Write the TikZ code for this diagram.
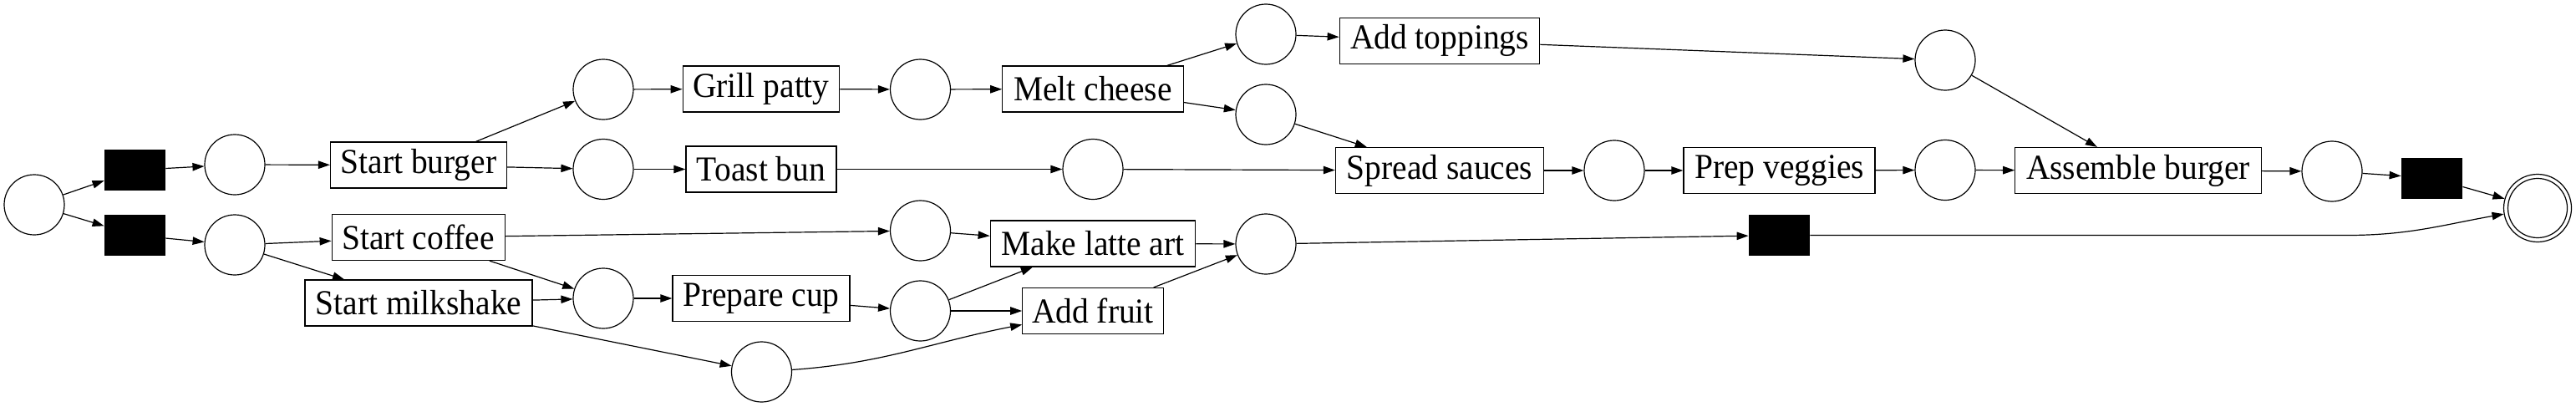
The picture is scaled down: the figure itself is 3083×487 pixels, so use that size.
\documentclass[tikz,border=0pt]{standalone}
\usepackage{fontspec}
\setmainfont{Liberation Serif}[FakeStretch=0.94]
\usetikzlibrary{arrows.meta}
\begin{document}
\begin{tikzpicture}[x=0.5pt,y=0.5pt,
  place/.style={draw, circle, minimum size=36pt, inner sep=0pt, line width=0.6pt},
  trans/.style={draw, rectangle, minimum height=27.5pt, inner sep=0pt, line width=0.6pt, font=\fontsize{21pt}{25pt}\selectfont},
  silent/.style={fill=black, rectangle, minimum width=36.5pt, minimum height=24.5pt, inner sep=0pt},
  arr/.style={-{Triangle[length=7pt,width=4.7pt]}, line width=0.6pt}
]
\useasboundingbox (0,0) rectangle (3083,-487);
\node[place] (p0) at (41,-245) {};
\node[silent] (t1) at (161.5,-203.5) {};
\node[silent] (t2) at (161.5,-281.5) {};
\node[place] (p1) at (281,-197) {};
\node[place] (p2) at (281,-293) {};
\node[trans, minimum width=105.5pt] (sb) at (501,-197.5) {Start burger};
\node[trans, minimum width=103.5pt] (sc) at (500.7,-284) {Start coffee};
\node[trans, minimum width=136pt] (sm) at (501,-362.5) {Start milkshake};
\node[place] (p3) at (722,-107) {};
\node[trans, minimum width=93.8pt] (gp) at (911,-106.5) {Grill patty};
\node[place] (p4) at (1101.5,-107) {};
\node[trans, minimum width=108.2pt] (mc) at (1308,-106.5) {Melt cheese};
\node[place] (p5) at (722,-202.5) {};
\node[trans, minimum width=90pt] (tb) at (911,-202.5) {Toast bun};
\node[place] (p6) at (1308,-202.5) {};
\node[place] (p7) at (1101.5,-276) {};
\node[trans, minimum width=122.8pt] (la) at (1308,-291.5) {Make latte art};
\node[place] (p8) at (722,-357) {};
\node[trans, minimum width=106pt] (pc) at (911,-357) {Prepare cup};
\node[place] (p9) at (1101.5,-372) {};
\node[trans, minimum width=84.2pt] (af) at (1308,-372) {Add fruit};
\node[place] (p10) at (911.5,-445) {};
\node[place] (p11) at (1515,-41) {};
\node[trans, minimum width=119.8pt] (tp) at (1723,-48.7) {Add toppings};
\node[place] (p12) at (1515,-137) {};
\node[trans, minimum width=124.6pt] (ss) at (1723,-204) {Spread sauces};
\node[place] (p13) at (1932,-204) {};
\node[trans, minimum width=114.5pt] (pv) at (2129.5,-204) {Prep veggies};
\node[place] (p14) at (2328,-203.5) {};
\node[place] (p15) at (1515,-292) {};
\node[silent] (t3) at (2129.5,-281.5) {};
\node[place] (p16) at (2328,-72) {};
\node[trans, minimum width=147.2pt] (ab) at (2559,-204) {Assemble burger};
\node[place] (p17) at (2791,-205) {};
\node[silent] (t4) at (2910.5,-213) {};
\node[place, minimum size=40.5pt] (sink) at (3037,-249) {};
\node[place, minimum size=35.5pt] (sinkin) at (3037,-249) {};

\draw[arr] (p0) -- (t1);
\draw[arr] (p0) -- (t2);
\draw[arr] (t1) -- (p1);
\draw[arr] (t2) -- (p2);
\draw[arr] (p1) -- (sb);
\draw[arr] (p2) -- (sc);
\draw[arr] (p2) -- (sm);
\draw[arr] (sb) -- (p3);
\draw[arr] (sb) -- (p5);
\draw[arr] (p3) -- (gp);
\draw[arr] (gp) -- (p4);
\draw[arr] (p4) -- (mc);
\draw[arr] (mc) -- (p11);
\draw[arr] (mc) -- (p12);
\draw[arr] (p11) -- (tp);
\draw[arr] (tp) -- (p16);
\draw[arr] (p12) -- (ss);
\draw[arr] (p5) -- (tb);
\draw[arr] (tb) -- (p6);
\draw[arr] (p6) -- (ss);
\draw[arr] (ss) -- (p13);
\draw[arr] (p13) -- (pv);
\draw[arr] (pv) -- (p14);
\draw[arr] (p14) -- (ab);
\draw[arr] (p16) -- (ab);
\draw[arr] (ab) -- (p17);
\draw[arr] (p17) -- (t4);
\draw[arr] (t4) -- (sink);
\draw[arr] (sc) -- (p7);
\draw[arr] (sc) -- (p8);
\draw[arr] (sm) -- (p8);
\draw[arr] (sm) -- (p10);
\draw[arr] (p8) -- (pc);
\draw[arr] (pc) -- (p9);
\draw[arr] (p9) -- (la);
\draw[arr] (p9) -- (af);
\draw[arr] (p7) -- (la);
\draw[arr] (p10) to[out=4,in=191] (af);
\draw[arr] (la) -- (p15);
\draw[arr] (af) -- (p15);
\draw[arr] (p15) -- (t3);
\draw[arr] (t3) -- ++(680,0) to[out=0,in=190] (sink);
\end{tikzpicture}
\end{document}
